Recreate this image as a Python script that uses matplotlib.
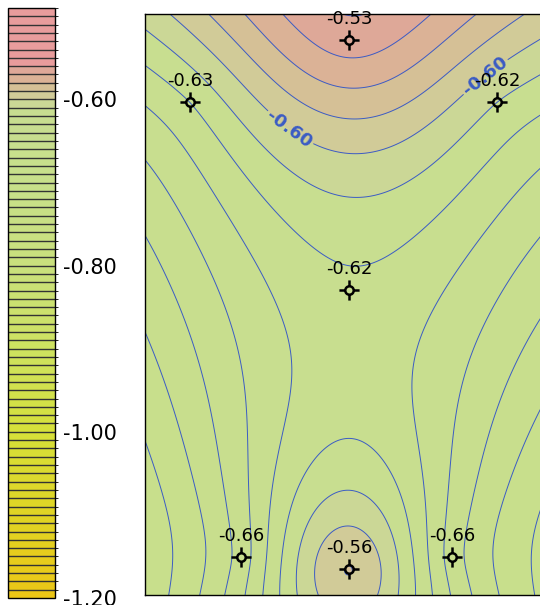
import numpy as np
import matplotlib
matplotlib.use("Agg")
import matplotlib.pyplot as plt
from matplotlib.colors import LinearSegmentedColormap, ListedColormap, BoundaryNorm
from matplotlib.path import Path

### positions des capteurs (m) et valeurs mesurées
cap_x = [2.04, 0.45, 3.52, 2.04, 0.96, 2.04, 3.07]
cap_y = [5.55, 4.93, 4.93, 3.05, 0.38, 0.26, 0.38]
cap_v = [-0.53, -0.63, -0.62, -0.62, -0.66, -0.56, -0.66]
### lissage par capteur (incertitude)
cap_lissage = [3.8, 2.0, 2.0, 2.0, 0.85, 0.85, 0.85]

### dimensions de la zone
largeur = 4.08
hauteur = 5.81

### niveaux (pas de 0.01) et graduations de la barre de couleur
niveaux = np.round(np.arange(-1.20, -0.485, 0.01), 2)
graduations = [-1.20, -1.00, -0.80, -0.60]
niveau_etiquette = -0.60

### couleurs de référence de l'échelle
ech_val = [-1.195, -1.10, -1.00, -0.90, -0.80, -0.70, -0.615, -0.605, -0.595,
           -0.585, -0.575, -0.565, -0.555, -0.495]
ech_col = ["#ecc616", "#e0d424", "#d6e03a", "#cee260", "#c9e07c", "#c8df8a",
           "#c8de90", "#cbd896", "#d0ce98", "#d5c096", "#dab496", "#dea898",
           "#e89c9c", "#e89c9c"]


def noyau(r):
    with np.errstate(divide="ignore", invalid="ignore"):
        k = r**2 * np.log(r)
    return np.nan_to_num(k)


### spline plaque mince lissée
xs, ys, vs = np.array(cap_x), np.array(cap_y), np.array(cap_v)
n = len(xs)
D = np.hypot(xs[:, None] - xs[None, :], ys[:, None] - ys[None, :])
P = np.column_stack([np.ones(n), xs, ys])
A = np.zeros((n + 3, n + 3))
A[:n, :n] = noyau(D) + np.diag(cap_lissage)
A[:n, n:] = P
A[n:, :n] = P.T
sol = np.linalg.solve(A, np.concatenate([vs, np.zeros(3)]))
w, a = sol[:n], sol[n:]

gx = np.linspace(0, largeur, 300)
gy = np.linspace(0, hauteur, 420)
X, Y = np.meshgrid(gx, gy)
Z = a[0] + a[1] * X + a[2] * Y
for i in range(n):
    Z = Z + w[i] * noyau(np.hypot(X - xs[i], Y - ys[i]))

### palette par bandes
vmin, vmax = niveaux[0], niveaux[-1]
pos = [(v - vmin) / (vmax - vmin) for v in ech_val]
pos[0], pos[-1] = 0.0, 1.0
cmap_c = LinearSegmentedColormap.from_list("ech", list(zip(pos, ech_col)))
milieux = (niveaux[:-1] + niveaux[1:]) / 2
cmap = ListedColormap(cmap_c((milieux - vmin) / (vmax - vmin)))
norm = BoundaryNorm(niveaux, cmap.N)

fig = plt.figure(figsize=(5.40, 6.05), dpi=100)
ax = fig.add_axes([145 / 540, 10 / 605, 408 / 540, 581 / 605])
cax = fig.add_axes([8 / 540, 7 / 605, 47 / 540, 590 / 605])

bleu = "#3b5cc4"
cf = ax.contourf(X, Y, Z, levels=niveaux, cmap=cmap, norm=norm)
autres = [v for v in niveaux if abs(v - niveau_etiquette) > 1e-6]
ax.contour(X, Y, Z, levels=autres, colors=bleu, linewidths=0.7,
           negative_linestyles="solid")
cs = ax.contour(X, Y, Z, levels=[niveau_etiquette], colors=bleu, linewidths=0.7,
                negative_linestyles="solid")
if len(cs.allsegs[0]) > 0:
    txt = ax.clabel(cs, fmt="%.2f", fontsize=13, colors=bleu, inline=True,
                    manual=[(1.34, 4.52), (3.43, 5.15)])
    for t in txt:
        t.set_fontweight("bold")

### symbole des capteurs
cercle = Path.circle((0, 0), 0.42)
bras = Path([(0.42, 0), (1, 0), (-0.42, 0), (-1, 0), (0, 0.42), (0, 1), (0, -0.42), (0, -1)],
            [Path.MOVETO, Path.LINETO] * 4)
symbole = Path.make_compound_path(cercle, bras)
ax.plot(cap_x, cap_y, linestyle="none", marker=symbole, markersize=14.5,
        markerfacecolor="none", markeredgecolor="black", markeredgewidth=1.8, zorder=5)
for x, y, v in zip(cap_x, cap_y, cap_v):
    ax.annotate(f"{v:.2f}", (x, y), xytext=(0, 15), textcoords="offset points",
                ha="center", va="center", fontsize=13, zorder=6)

ax.set_xlim(0, largeur)
ax.set_ylim(0, hauteur)
ax.set_xticks([])
ax.set_yticks([])
for s in ax.spines.values():
    s.set_linewidth(1.0)

cb = fig.colorbar(cf, cax=cax, ticks=graduations, drawedges=True)
cb.dividers.set_color("#333333")
cb.dividers.set_linewidth(1.0)
cb.outline.set_linewidth(1.0)
cb.ax.yaxis.set_ticks_position("right")
cb.ax.tick_params(length=0, pad=6, labelsize=15)
cb.ax.set_yticklabels([f"{g:.2f}" for g in graduations])

fig.savefig("out.png", dpi=100)
